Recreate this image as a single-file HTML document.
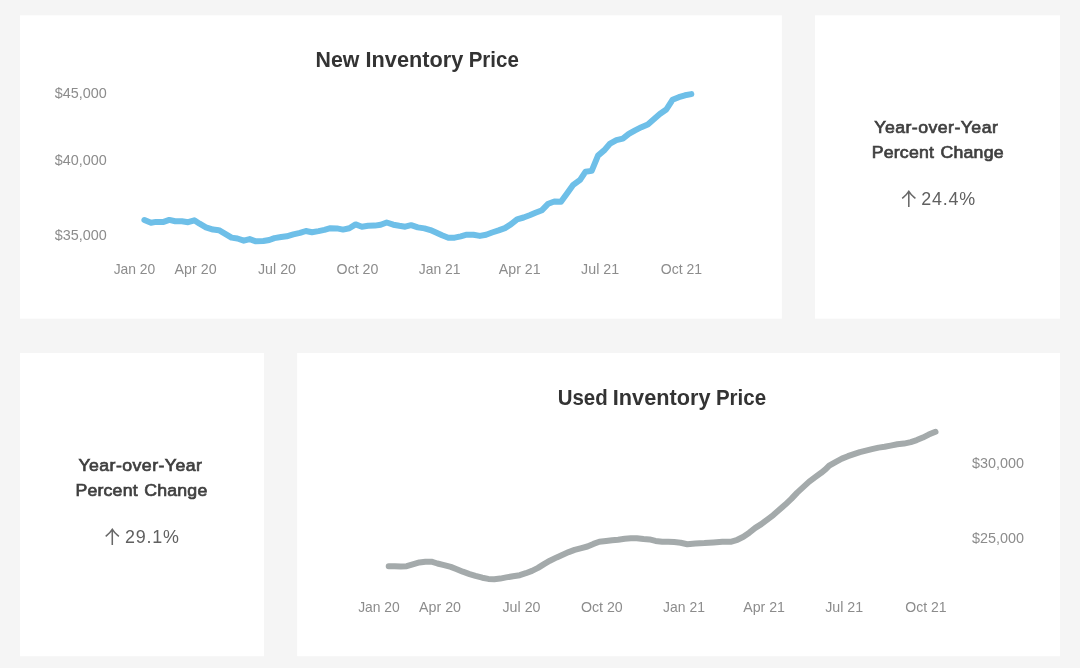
<!DOCTYPE html>
<html lang="en">
<head>
<meta charset="utf-8">
<title>Inventory Price Dashboard</title>
<style>
  html, body { margin:0; padding:0; }
  body { width:1080px; height:668px; background:#f5f5f5; position:relative; overflow:hidden;
         font-family:"Liberation Sans", sans-serif; }
  .bg { position:absolute; left:0; top:0; display:block; }
  .panel { position:absolute; background:transparent; overflow:hidden; }
  .panel svg { position:absolute; left:0; top:0; display:block; }
  h2, h3, p { position:absolute; margin:0; padding:0; white-space:nowrap; transform-origin:0 50%; }
  .title { font-weight:bold; color:#333333; }
  .title span { position:absolute; left:0; top:0; display:block; white-space:nowrap; transform-origin:0 50%; }
  .kpi-h { font-weight:normal; color:#3f3f3f; -webkit-text-stroke:0.7px #3f3f3f; }
  .kpi-v { font-weight:normal; color:#606060; }
  .arrow { position:absolute; overflow:hidden; color:#686868; white-space:nowrap;
           font-family:"Noto Sans CJK JP", "DejaVu Sans", sans-serif; font-weight:300; }
  .ax { font-family:"Liberation Sans", sans-serif; font-size:15.0px; fill:#8c8c8c; }
  .xl { font-size:15.0px; }
  .ln { fill:none; stroke-width:6; stroke-linecap:round; stroke-linejoin:round; }
</style>
</head>
<body>

<svg class="bg" width="1080" height="668" viewBox="0 0 1080 668" aria-hidden="true">
  <rect x="20" y="15.3" width="761.85" height="303.4" fill="#ffffff"/>
  <rect x="815" y="15.3" width="245" height="303.4" fill="#ffffff"/>
  <rect x="20" y="353" width="244" height="303.2" fill="#ffffff"/>
  <rect x="297.1" y="353" width="762.9" height="303.2" fill="#ffffff"/>
</svg>

<section class="panel" id="new-chart" style="left:20px;top:15px;width:762px;height:304px">
  <h2 class="title" id="t1" style="left:296px;top:32.27px;width:230px;height:26px;font-size:22.3px;line-height:26px"><span style="transform:translateX(-0.40px) scaleX(0.9560)">New</span> <span style="transform:translateX(49.50px) scaleX(0.9740)">Inventory</span> <span style="transform:translateX(152.70px) scaleX(0.9190)">Price</span></h2>
  <svg width="762" height="304" viewBox="0 0 762 304">
    <g>
      <text class="ax" x="34.8" y="83.0" textLength="52.0" lengthAdjust="spacingAndGlyphs">$45,000</text>
      <text class="ax" x="34.8" y="150.0" textLength="52.0" lengthAdjust="spacingAndGlyphs">$40,000</text>
      <text class="ax" x="34.8" y="224.6" textLength="52.0" lengthAdjust="spacingAndGlyphs">$35,000</text>
    </g>
    <g>
      <text class="ax xl" x="114.5" y="258.7" text-anchor="middle" textLength="41.6" lengthAdjust="spacingAndGlyphs">Jan 20</text>
      <text class="ax xl" x="175.6" y="258.7" text-anchor="middle" textLength="42.0" lengthAdjust="spacingAndGlyphs">Apr 20</text>
      <text class="ax xl" x="257.0" y="258.7" text-anchor="middle" textLength="38.0" lengthAdjust="spacingAndGlyphs">Jul 20</text>
      <text class="ax xl" x="337.5" y="258.7" text-anchor="middle" textLength="41.8" lengthAdjust="spacingAndGlyphs">Oct 20</text>
      <text class="ax xl" x="419.7" y="258.7" text-anchor="middle" textLength="41.8" lengthAdjust="spacingAndGlyphs">Jan 21</text>
      <text class="ax xl" x="499.7" y="258.7" text-anchor="middle" textLength="41.8" lengthAdjust="spacingAndGlyphs">Apr 21</text>
      <text class="ax xl" x="580.1" y="258.7" text-anchor="middle" textLength="38.0" lengthAdjust="spacingAndGlyphs">Jul 21</text>
      <text class="ax xl" x="661.5" y="258.7" text-anchor="middle" textLength="41.3" lengthAdjust="spacingAndGlyphs">Oct 21</text>
    </g>
    <path class="ln" stroke="#6ebfe8" d="M124.4,205.0 L131.0,207.8 L135.9,206.9 L142.9,207.1 L149.3,204.9 L155.2,206.2 L161.9,206.2 L168.1,207.2 L174.3,205.3 L179.6,208.7 L185.9,212.3 L193.0,214.6 L198.9,215.2 L204.8,218.6 L211.5,222.6 L217.4,223.5 L223.8,225.7 L229.7,224.1 L235.9,226.3 L243.3,226.0 L249.3,225.0 L254.4,223.1 L261.1,222.0 L266.7,221.3 L273.3,219.4 L280.0,217.9 L285.9,216.0 L291.9,217.2 L298.5,216.1 L304.4,214.9 L310.4,213.2 L317.0,213.4 L323.0,214.6 L329.3,213.2 L335.6,209.4 L341.9,211.7 L348.1,210.8 L354.8,210.6 L360.7,209.7 L366.7,207.5 L373.3,209.7 L379.3,210.8 L385.2,211.7 L391.1,210.2 L397.8,212.4 L404.4,213.4 L410.4,215.1 L416.0,217.6 L422.0,220.3 L428.3,222.7 L434.7,222.7 L440.7,221.3 L446.7,219.7 L453.4,219.7 L459.9,220.9 L466.1,219.7 L472.1,217.5 L478.6,215.4 L484.9,213.1 L490.8,209.4 L497.1,204.4 L503.6,202.5 L509.6,200.2 L515.5,197.7 L522.0,195.2 L528.3,188.7 L534.3,186.5 L541.0,186.8 L547.0,178.5 L552.9,170.2 L560.1,164.8 L565.4,156.8 L571.7,155.9 L578.0,140.6 L584.1,135.4 L590.1,128.6 L596.4,125.2 L602.8,123.7 L608.8,118.9 L615.1,115.4 L621.4,112.2 L627.8,109.5 L633.8,104.2 L639.8,99.0 L646.3,94.5 L652.5,84.8 L658.8,82.2 L665.0,80.3 L671.3,79.1"/>
  </svg>
</section>

<section class="panel" id="new-kpi" style="left:815px;top:15px;width:245px;height:304px">
  <h3 class="kpi-h" id="k1a" style="left:59px;top:101.04px;font-size:17.2px;line-height:22px;transform:translateX(0.30px) scaleX(1.03);letter-spacing:0.43px;">Year-over-Year</h3>
  <h3 class="kpi-h" id="k1b" style="left:56px;top:126.14px;font-size:17.2px;line-height:22px;transform:translateX(0.70px) scaleX(1.03);letter-spacing:0.2px;word-spacing:1.2px;">Percent Change</h3>
  <span class="arrow" id="a1" style="left:82.8px;top:171px;width:22px;height:20.9px;font-size:30.6px;line-height:30.6px"><span style="position:absolute;left:-4.3px;top:2.0px">↑</span></span>
  <p class="kpi-v" id="k1v" style="left:106px;top:173.29px;font-size:17.9px;line-height:22px;transform:translateX(0.20px) scaleX(1.0);letter-spacing:0.8px;">24.4%</p>
</section>

<section class="panel" id="used-kpi" style="left:20px;top:353px;width:244px;height:304px">
  <h3 class="kpi-h" id="k2a" style="left:58px;top:101.04px;font-size:17.2px;line-height:22px;transform:translateX(0.40px) scaleX(1.03);letter-spacing:0.43px;">Year-over-Year</h3>
  <h3 class="kpi-h" id="k2b" style="left:55px;top:126.14px;font-size:17.2px;line-height:22px;transform:translateX(0.40px) scaleX(1.03);letter-spacing:0.2px;word-spacing:1.2px;">Percent Change</h3>
  <span class="arrow" id="a2" style="left:81.4px;top:170.8px;width:22px;height:20.9px;font-size:30.6px;line-height:30.6px"><span style="position:absolute;left:-4.3px;top:2.0px">↑</span></span>
  <p class="kpi-v" id="k2v" style="left:104px;top:173.09px;font-size:17.9px;line-height:22px;transform:translateX(0.90px) scaleX(1.0);letter-spacing:0.8px;">29.1%</p>
</section>

<section class="panel" id="used-chart" style="left:297px;top:353px;width:763px;height:304px">
  <h2 class="title" id="t2" style="left:261px;top:31.67px;width:230px;height:26px;font-size:22.3px;line-height:26px"><span style="transform:translateX(-0.30px) scaleX(0.9170)">Used</span> <span style="transform:translateX(54.80px) scaleX(0.9740)">Inventory</span> <span style="transform:translateX(157.90px) scaleX(0.9190)">Price</span></h2>
  <svg width="763" height="304" viewBox="0 0 763 304">
    <g>
      <text class="ax" x="675.1" y="114.8" textLength="52.0" lengthAdjust="spacingAndGlyphs">$30,000</text>
      <text class="ax" x="675.1" y="189.9" textLength="52.0" lengthAdjust="spacingAndGlyphs">$25,000</text>
    </g>
    <g>
      <text class="ax xl" x="82.0" y="258.6" text-anchor="middle" textLength="41.6" lengthAdjust="spacingAndGlyphs">Jan 20</text>
      <text class="ax xl" x="143.0" y="258.6" text-anchor="middle" textLength="42.0" lengthAdjust="spacingAndGlyphs">Apr 20</text>
      <text class="ax xl" x="224.5" y="258.6" text-anchor="middle" textLength="38.0" lengthAdjust="spacingAndGlyphs">Jul 20</text>
      <text class="ax xl" x="304.8" y="258.6" text-anchor="middle" textLength="41.8" lengthAdjust="spacingAndGlyphs">Oct 20</text>
      <text class="ax xl" x="387.0" y="258.6" text-anchor="middle" textLength="41.8" lengthAdjust="spacingAndGlyphs">Jan 21</text>
      <text class="ax xl" x="467.1" y="258.6" text-anchor="middle" textLength="41.8" lengthAdjust="spacingAndGlyphs">Apr 21</text>
      <text class="ax xl" x="547.2" y="258.6" text-anchor="middle" textLength="38.0" lengthAdjust="spacingAndGlyphs">Jul 21</text>
      <text class="ax xl" x="629.0" y="258.6" text-anchor="middle" textLength="41.3" lengthAdjust="spacingAndGlyphs">Oct 21</text>
    </g>
    <path class="ln" stroke="#a4aaab" d="M91.7,213.2 L97.7,213.2 L103.7,213.5 L109.7,213.2 L115.7,211.4 L122.4,209.4 L128.4,208.7 L134.4,208.7 L140.4,210.5 L147.1,212.1 L153.8,213.9 L159.8,216.2 L165.8,218.7 L172.6,221.1 L178.5,222.9 L185.3,224.7 L191.3,225.9 L197.3,226.2 L203.2,225.6 L209.2,224.4 L216.0,223.2 L222.8,222.2 L228.8,220.2 L235.0,217.9 L241.0,214.9 L247.0,211.1 L252.9,207.7 L259.7,204.4 L265.7,201.7 L271.7,199.1 L277.6,196.9 L284.4,195.1 L290.4,193.5 L296.4,190.9 L302.3,188.7 L309.1,187.9 L315.1,187.2 L321.1,186.7 L327.8,185.7 L333.8,185.2 L339.8,185.2 L346.5,186.0 L352.5,186.4 L358.5,187.9 L365.2,188.7 L371.2,188.8 L377.2,189.1 L383.6,189.7 L390.3,191.2 L398.4,190.6 L407.4,190.1 L416.4,189.4 L425.4,188.8 L433.6,188.8 L440.4,186.8 L446.4,183.8 L452.3,179.7 L458.3,174.9 L464.3,171.1 L470.3,166.6 L476.3,162.1 L482.3,156.8 L488.3,151.6 L494.3,145.9 L500.2,139.6 L506.2,134.1 L512.2,128.6 L518.2,124.1 L524.2,119.8 L528.7,116.2 L532.2,112.6 L538.9,108.8 L544.9,105.6 L550.9,103.2 L556.9,101.1 L562.9,99.1 L568.9,97.6 L574.9,96.1 L581.6,94.6 L587.6,93.8 L593.6,92.6 L600.3,91.3 L607.0,90.6 L613.8,89.1 L619.8,87.1 L625.8,84.6 L631.7,81.6 L638.5,78.8"/>
  </svg>
</section>

</body>
</html>
